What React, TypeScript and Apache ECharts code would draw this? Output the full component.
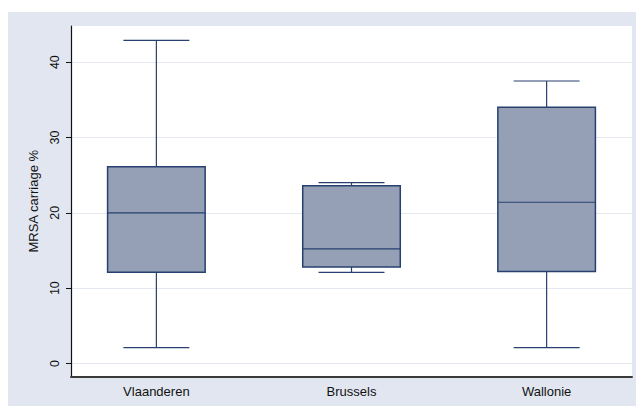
import React, { useEffect, useRef } from "react";
import * as echarts from "echarts";

const categories = ["Vlaanderen", "Brussels", "Wallonie"];
const positions = [1, 2, 3];
const lowerWhisker = [2.1, 12.1, 2.1];
const q1 = [12.1, 12.8, 12.2];
const median = [20.0, 15.2, 21.4];
const q3 = [26.1, 23.6, 34.0];
const upperWhisker = [42.9, 24.0, 37.5];
const yTicks = [0, 10, 20, 30, 40];

const NAVY = "#27406f";
const FILL = "#95a0b7";

export default function App() {
  const ref = useRef<HTMLDivElement>(null);
  useEffect(() => {
    if (!ref.current) return;
    const chart = echarts.init(ref.current, null, { renderer: "svg" });
    const data = positions.map((p, i) => [p, lowerWhisker[i], q1[i], median[i], q3[i], upperWhisker[i]]);
    chart.setOption({
      animation: false,
      textStyle: { fontFamily: "Liberation Sans, Arial, sans-serif" },
      graphic: [
        {
          type: "rect",
          left: 8,
          top: 12,
          z: -10,
          silent: true,
          shape: { width: 628, height: 394 },
          style: { fill: "#e1e6f0" },
        },
      ],
      grid: {
        left: 71,
        top: 26,
        right: 4,
        bottom: 29.5,
        show: true,
        backgroundColor: "#ffffff",
        borderWidth: 0,
      },
      xAxis: {
        type: "value",
        min: 0.5625,
        max: 3.4375,
        axisLine: { show: true, onZero: false, lineStyle: { color: "#3a3a3a", width: 2 } },
        axisTick: { show: false },
        splitLine: { show: false },
        axisLabel: {
          customValues: positions,
          formatter: (v: number) => categories[Math.round(v) - 1] ?? "",
          fontSize: 13,
          color: "#111",
          margin: 8,
        },
      },
      yAxis: {
        type: "value",
        min: -1.73,
        max: 44.8,
        name: "MRSA carriage %",
        nameLocation: "middle",
        nameGap: 28,
        nameRotate: 90,
        nameTextStyle: { fontSize: 13, color: "#111" },
        axisLine: { show: true, lineStyle: { color: "#111", width: 1.2 } },
        axisTick: { show: true, customValues: yTicks, length: 5, lineStyle: { color: "#111" } },
        axisLabel: {
          customValues: yTicks,
          rotate: 90,
          fontSize: 12.5,
          color: "#111",
          margin: 10,
        },
        splitLine: { show: true, lineStyle: { color: "#e3e8f1", width: 1 } },
      },
      series: [
        {
          type: "custom",
          data,
          encode: { x: 0, y: [1, 2, 3, 4, 5] },
          renderItem: (params: any, api: any) => {
            const p = api.value(0);
            const lo = api.coord([p, api.value(1)]);
            const b1 = api.coord([p, api.value(2)]);
            const md = api.coord([p, api.value(3)]);
            const b3 = api.coord([p, api.value(4)]);
            const hi = api.coord([p, api.value(5)]);
            const halfBox = (api.coord([p + 0.25, 0])[0] - lo[0]);
            const halfCap = (api.coord([p + 0.169, 0])[0] - lo[0]);
            const x = lo[0];
            const ls = { stroke: NAVY, lineWidth: 1.2 };
            return {
              type: "group",
              children: [
                { type: "line", shape: { x1: x, y1: lo[1], x2: x, y2: b1[1] }, style: ls },
                { type: "line", shape: { x1: x, y1: b3[1], x2: x, y2: hi[1] }, style: ls },
                { type: "line", shape: { x1: x - halfCap, y1: lo[1], x2: x + halfCap, y2: lo[1] }, style: ls },
                { type: "line", shape: { x1: x - halfCap, y1: hi[1], x2: x + halfCap, y2: hi[1] }, style: ls },
                {
                  type: "rect",
                  shape: { x: x - halfBox, y: b3[1], width: 2 * halfBox, height: b1[1] - b3[1] },
                  style: { fill: FILL, stroke: NAVY, lineWidth: 1.5 },
                },
                { type: "line", shape: { x1: x - halfBox, y1: md[1], x2: x + halfBox, y2: md[1] }, style: ls },
              ],
            };
          },
        },
      ],
    });
    return () => chart.dispose();
  }, []);
  return (
    <div
      ref={ref}
      style={{ position: "absolute", left: 0, top: 0, width: 636, height: 406, background: "#ffffff" }}
    />
  );
}
